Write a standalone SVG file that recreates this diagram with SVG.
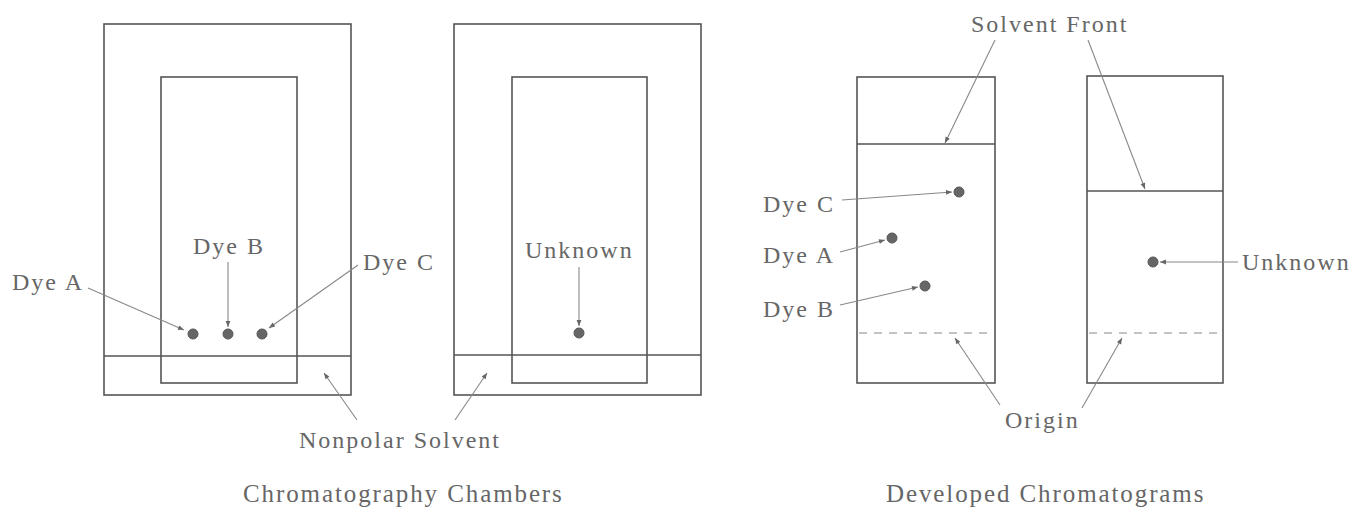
<svg xmlns="http://www.w3.org/2000/svg" width="1357" height="510" viewBox="0 0 1357 510">
<style>
.box{fill:none;stroke:#555;stroke-width:1.6}
.ln{stroke:#555;stroke-width:1.6;fill:none}
.dash{stroke:#888;stroke-width:1.2;stroke-dasharray:8 7;fill:none}
.arr{stroke:#888;stroke-width:1.1;fill:none;marker-end:url(#ah)}
.dot{fill:#666;stroke:#555;stroke-width:1}
.t{font-family:"Liberation Serif","DejaVu Serif",serif;font-size:24px;fill:#666;letter-spacing:2px}
.big{font-size:25px;letter-spacing:1.9px}
</style>
<defs>
<marker id="ah" viewBox="0 0 10 10" refX="10" refY="5" markerWidth="9" markerHeight="6" markerUnits="userSpaceOnUse" orient="auto">
<path d="M0,1 L10,5 L0,9 z" fill="#666"/>
</marker>
</defs>
<rect width="1357" height="510" fill="#fff"/>

<g id="chamber1">
<rect class="box" x="104" y="24" width="247" height="371"/>
<rect class="box" x="161" y="77" width="136" height="306"/>
<line class="ln" x1="104" y1="356" x2="351" y2="356"/>
<circle class="dot" cx="193" cy="334" r="5"/>
<circle class="dot" cx="228" cy="334" r="5"/>
<circle class="dot" cx="262" cy="334" r="5"/>
</g>

<g id="chamber2">
<rect class="box" x="454" y="24" width="247" height="371"/>
<rect class="box" x="512" y="77" width="135" height="306"/>
<line class="ln" x1="454" y1="355" x2="701" y2="355"/>
<circle class="dot" cx="579" cy="333" r="5"/>
</g>

<g id="plate1">
<rect class="box" x="857" y="77" width="138" height="306"/>
<line class="ln" x1="857" y1="144" x2="995" y2="144"/>
<line class="dash" x1="859" y1="333" x2="995" y2="333"/>
<circle class="dot" cx="959" cy="192" r="5"/>
<circle class="dot" cx="892" cy="238" r="5"/>
<circle class="dot" cx="925" cy="286" r="5"/>
</g>

<g id="plate2">
<rect class="box" x="1087" y="76" width="136" height="307"/>
<line class="ln" x1="1087" y1="191" x2="1223" y2="191"/>
<line class="dash" x1="1089" y1="333" x2="1223" y2="333"/>
<circle class="dot" cx="1153" cy="262" r="5"/>
</g>

<g id="labels">
<text class="t" x="12" y="290">Dye A</text>
<text class="t" x="193" y="254">Dye B</text>
<text class="t" x="363" y="270">Dye C</text>
<text class="t" x="525" y="258">Unknown</text>
<text class="t" x="299" y="448">Nonpolar Solvent</text>
<text class="t big" x="243" y="502">Chromatography Chambers</text>
<text class="t" x="971" y="32">Solvent Front</text>
<text class="t" x="763" y="212">Dye C</text>
<text class="t" x="763" y="263">Dye A</text>
<text class="t" x="763" y="317">Dye B</text>
<text class="t" x="1242" y="270">Unknown</text>
<text class="t" x="1005" y="428">Origin</text>
<text class="t big" x="886" y="502">Developed Chromatograms</text>
</g>

<g id="connectors">
<line class="arr" x1="88" y1="288" x2="184" y2="330"/>
<line class="arr" x1="228" y1="262" x2="228" y2="327"/>
<line class="arr" x1="358" y1="265" x2="269" y2="328"/>
<line class="arr" x1="579" y1="267" x2="579" y2="326"/>
<line class="arr" x1="357" y1="420" x2="324" y2="373"/>
<line class="arr" x1="455" y1="420" x2="487" y2="373"/>
<line class="arr" x1="995" y1="40" x2="945" y2="143"/>
<line class="arr" x1="1088" y1="40" x2="1145" y2="189"/>
<line class="arr" x1="842" y1="200" x2="952" y2="192"/>
<line class="arr" x1="840" y1="252" x2="885" y2="240"/>
<line class="arr" x1="840" y1="305" x2="918" y2="287"/>
<line class="arr" x1="1238" y1="262" x2="1160" y2="262"/>
<line class="arr" x1="1000" y1="405" x2="955" y2="338"/>
<line class="arr" x1="1082" y1="408" x2="1122" y2="338"/>
</g>
</svg>
